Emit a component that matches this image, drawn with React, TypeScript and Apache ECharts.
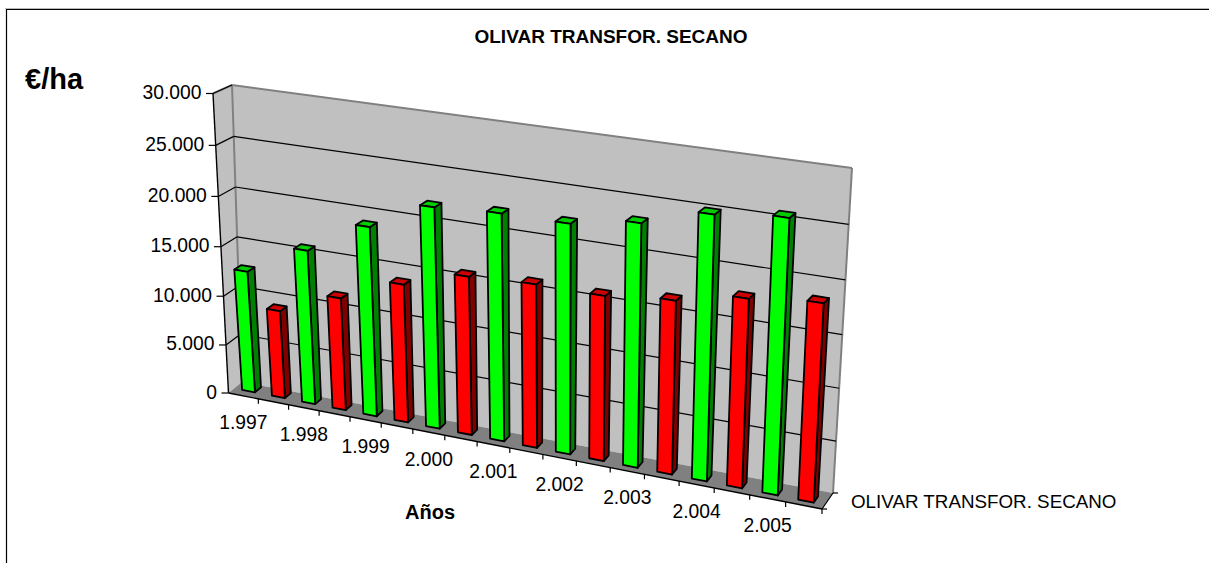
import React, { useEffect, useRef } from "react";
import * as echarts from "echarts";

const TITLE = "OLIVAR TRANSFOR. SECANO";
const UNIT_LABEL = "€/ha";
const X_NAME = "Años";
const SERIES_NAME = "OLIVAR TRANSFOR. SECANO";
const FONT = '"Liberation Sans", Arial, sans-serif';

const categories = ["1.997", "", "1.998", "", "1.999", "", "2.000", "", "2.001", "", "2.002", "", "2.003", "", "2.004", "", "2.005", ""];
const values = [12400, 8950, 15550, 11350, 18900, 13800, 21800, 15650, 22200, 16000, 22250, 16000, 23300, 16650, 25100, 17950, 25800, 18650];
const yTicks = [0, 5000, 10000, 15000, 20000, 25000, 30000];
const yMax = 30000;

const fmt = (v: number) => (v === 0 ? "0" : `${Math.floor(v / 1000)}.${String(v % 1000).padStart(3, "0")}`);

type P = [number, number];
function homography(q: P[]) {
  const [[x0, y0], [x1, y1], [x2, y2], [x3, y3]] = q;
  const dx1 = x1 - x2, dx2 = x3 - x2, sx = x0 - x1 + x2 - x3;
  const dy1 = y1 - y2, dy2 = y3 - y2, sy = y0 - y1 + y2 - y3;
  const den = dx1 * dy2 - dx2 * dy1;
  const g = (sx * dy2 - dx2 * sy) / den;
  const h = (dx1 * sy - sx * dy1) / den;
  const a = x1 - x0 + g * x1, b = x3 - x0 + h * x3, c = x0;
  const d = y1 - y0 + g * y1, e = y3 - y0 + h * y3, f = y0;
  return (u: number, v: number): P => {
    const k = g * u + h * v + 1;
    return [(a * u + b * v + c) / k, (d * u + e * v + f) / k];
  };
}
// corners: (u,v) = (0,0), (1,0), (1,1), (0,1)
const frontPlane = homography([[228.5, 393], [822, 509], [836, 181], [213, 93.5]]);
const backPlane = homography([[242, 382], [833, 493], [852, 168], [232, 85]]);
const project = (u: number, v: number, w: number): P => {
  const a = frontPlane(u, v), b = backPlane(u, v);
  return [a[0] + (b[0] - a[0]) * w, a[1] + (b[1] - a[1]) * w];
};
// bars converge a little more strongly than the walls do
const barProject = (u: number, v: number, w: number): P => {
  const p = project(u, v, w);
  return [p[0] + v * (-6.5 + 8 * u), p[1]];
};

const GRID = { left: 200, top: 100, width: 600, height: 300 };
const uvOf = (p: number[]) => [(p[0] - GRID.left) / GRID.width, (GRID.top + GRID.height - p[1]) / GRID.height];

const text = (t: string, x: number, y: number, align: string, size = 19.3, weight = "normal") => ({
  type: "text",
  silent: true,
  style: { text: t, x, y, align, verticalAlign: "middle", fontFamily: FONT, fontSize: size, fontWeight: weight, fill: "#000" },
});
const line = (a: P, b: P, stroke: string, lineWidth = 1) => ({
  type: "line",
  silent: true,
  shape: { x1: a[0], y1: a[1], x2: b[0], y2: b[1] },
  style: { stroke, lineWidth },
});
const poly = (pts: P[], fill: string, stroke: string | null, lineWidth = 1) => ({
  type: "polygon",
  silent: true,
  shape: { points: pts },
  style: { fill, stroke: stroke ?? "none", lineWidth, lineJoin: "round" },
});

const renderWalls = () => {
  const children = [
    poly([project(0, 0, 0), project(0, 1, 0), project(0, 1, 1), project(0, 0, 1)], "#C0C0C0", null),
    poly([project(0, 0, 1), project(0, 1, 1), project(1, 1, 1), project(1, 0, 1)], "#C0C0C0", null),
    poly([project(0, 0, 0), project(1, 0, 0), project(1, 0, 1), project(0, 0, 1)], "#808080", null),
    line(project(0, 0, 1), project(0, 1, 1), "#808080", 2),
    line(project(0, 1, 1), project(1, 1, 1), "#808080", 2),
    line(project(1, 1, 1), project(1, 0, 1), "#808080", 2),
    line(project(0, 1, 0), project(0, 1, 1), "#808080", 2),
  ];
  return { type: "group", children };
};

const renderY = (_: any, api: any) => {
  const val = api.value(0);
  const [, v] = uvOf(api.coord([0, val]));
  const front = project(0, v, 0);
  const back = project(0, v, 1);
  const right = project(1, v, 1);
  const children: any[] = [
    line([front[0] - 7, front[1]], front, "#000", 1.2),
    text(fmt(val), front[0] - 11.5, front[1] - 1, "right"),
  ];
  if (val > 0) {
    children.push(line(front, back, "#000", 1.2));
    if (val < yMax) children.push(line(back, right, "#000", 1.2));
  }
  return { type: "group", children };
};

const renderAxisLines = () => ({
  type: "group",
  children: [
    line(project(0, 1, 0), project(0, 0, 0), "#000", 1.4),
    line(project(0, 0, 0), project(1, 0, 0), "#000", 1.4),
    line(project(1, 0, 0), project(1, 0, 1), "#000", 1.2),
    line(project(1, 0, 1), [project(1, 0, 1)[0] + 5, project(1, 0, 1)[1]], "#000", 1.2),
    line(project(1, 0, 0), [project(1, 0, 0)[0] + 5, project(1, 0, 0)[1]], "#000", 1.2),
    text(SERIES_NAME, 851, 501, "left", 18.8),
  ],
});

const renderX = (_: any, api: any) => {
  const i = api.value(0);
  const band = api.size([1, 0])[0];
  const c = api.coord([i, 0]);
  const [uR] = uvOf([c[0] + band / 2, c[1]]);
  const [uC] = uvOf(c);
  const t = project(uR, 0, 0);
  const children: any[] = [line(t, [t[0], t[1] + 5], "#000", 1.2)];
  if (categories[i]) {
    const m = project(uC, 0, 0);
    children.push(text(categories[i], m[0], m[1] + 27, "center"));
  }
  return { type: "group", children };
};

const renderBar = (_: any, api: any) => {
  const i = api.value(0);
  const val = api.value(1);
  const band = api.size([1, 0])[0];
  const c = api.coord([i, val]);
  const [, v] = uvOf(c);
  const [uL] = uvOf([c[0] + band * (0.265 - 0.5), c[1]]);
  const [uR] = uvOf([c[0] + band * (0.695 - 0.5), c[1]]);
  const um = (uL + uR) / 2;
  const w0 = 0.43 + (0.26 - 0.43) * um;
  const w1 = 0.88 + (0.64 - 0.88) * um;
  const green = i % 2 === 0;
  const [front, side, top] = green ? ["#00FF00", "#008000", "#00CC00"] : ["#FF0000", "#800000", "#CC0000"];
  const lw = 1.8;
  return {
    type: "group",
    children: [
      poly([barProject(uR, 0, w0), barProject(uR, v, w0), barProject(uR, v, w1), barProject(uR, 0, w1)], side, "#000", lw),
      poly([barProject(uL, v, w0), barProject(uR, v, w0), barProject(uR, v, w1), barProject(uL, v, w1)], top, "#000", lw),
      poly([barProject(uL, 0, w0), barProject(uR, 0, w0), barProject(uR, v, w0), barProject(uL, v, w0)], front, "#000", lw),
    ],
  };
};

export default function App() {
  const ref = useRef<HTMLDivElement>(null);
  useEffect(() => {
    const chart = echarts.init(ref.current!, undefined, { renderer: "svg" });
    const base = { type: "custom", coordinateSystem: "cartesian2d", silent: true, clip: false };
    chart.setOption({
      animation: false,
      backgroundColor: "#fff",
      grid: { ...GRID },
      xAxis: { type: "category", data: categories, show: false },
      yAxis: { type: "value", min: 0, max: yMax, interval: 5000, show: false },
      graphic: [
        { type: "line", silent: true, shape: { x1: 5, y1: 8.5, x2: 1209, y2: 8.5 }, style: { stroke: "#BBBBBB", lineWidth: 1 } },
        { type: "polyline", silent: true, shape: { points: [[6.5, 563], [6.5, 9.5], [1209, 9.5]] }, style: { stroke: "#000", lineWidth: 1.2, fill: "none" } },
        { type: "text", silent: true, x: 611, y: 36, style: { text: TITLE, align: "center", verticalAlign: "middle", fontFamily: FONT, fontWeight: "bold", fontSize: 19, fill: "#000" } },
        { type: "text", silent: true, x: 25, y: 79, style: { text: UNIT_LABEL, align: "left", verticalAlign: "middle", fontFamily: FONT, fontWeight: "bold", fontSize: 29, fill: "#000" } },
        { type: "text", silent: true, x: 430, y: 512, style: { text: X_NAME, align: "center", verticalAlign: "middle", fontFamily: FONT, fontWeight: "bold", fontSize: 20, fill: "#000" } },
      ],
      series: [
        { ...base, name: "walls", data: [[0, 0]], renderItem: renderWalls, z: 1 },
        { ...base, name: "yAxis", data: yTicks.map((t) => [t]), encode: { x: -1, y: 0 }, renderItem: renderY, z: 2 },
        { ...base, name: "axes", data: [[0, 0]], renderItem: renderAxisLines, z: 3 },
        { ...base, name: "xAxis", data: categories.map((_, i) => [i]), encode: { x: 0, y: -1 }, renderItem: renderX, z: 3 },
        { ...base, name: SERIES_NAME, data: values.map((v, i) => [i, v]), encode: { x: 0, y: 1 }, renderItem: renderBar, z: 4 },
      ],
    });
    return () => chart.dispose();
  }, []);
  return <div ref={ref} style={{ position: "absolute", left: 0, top: 0, width: 1209, height: 563 }} />;
}
